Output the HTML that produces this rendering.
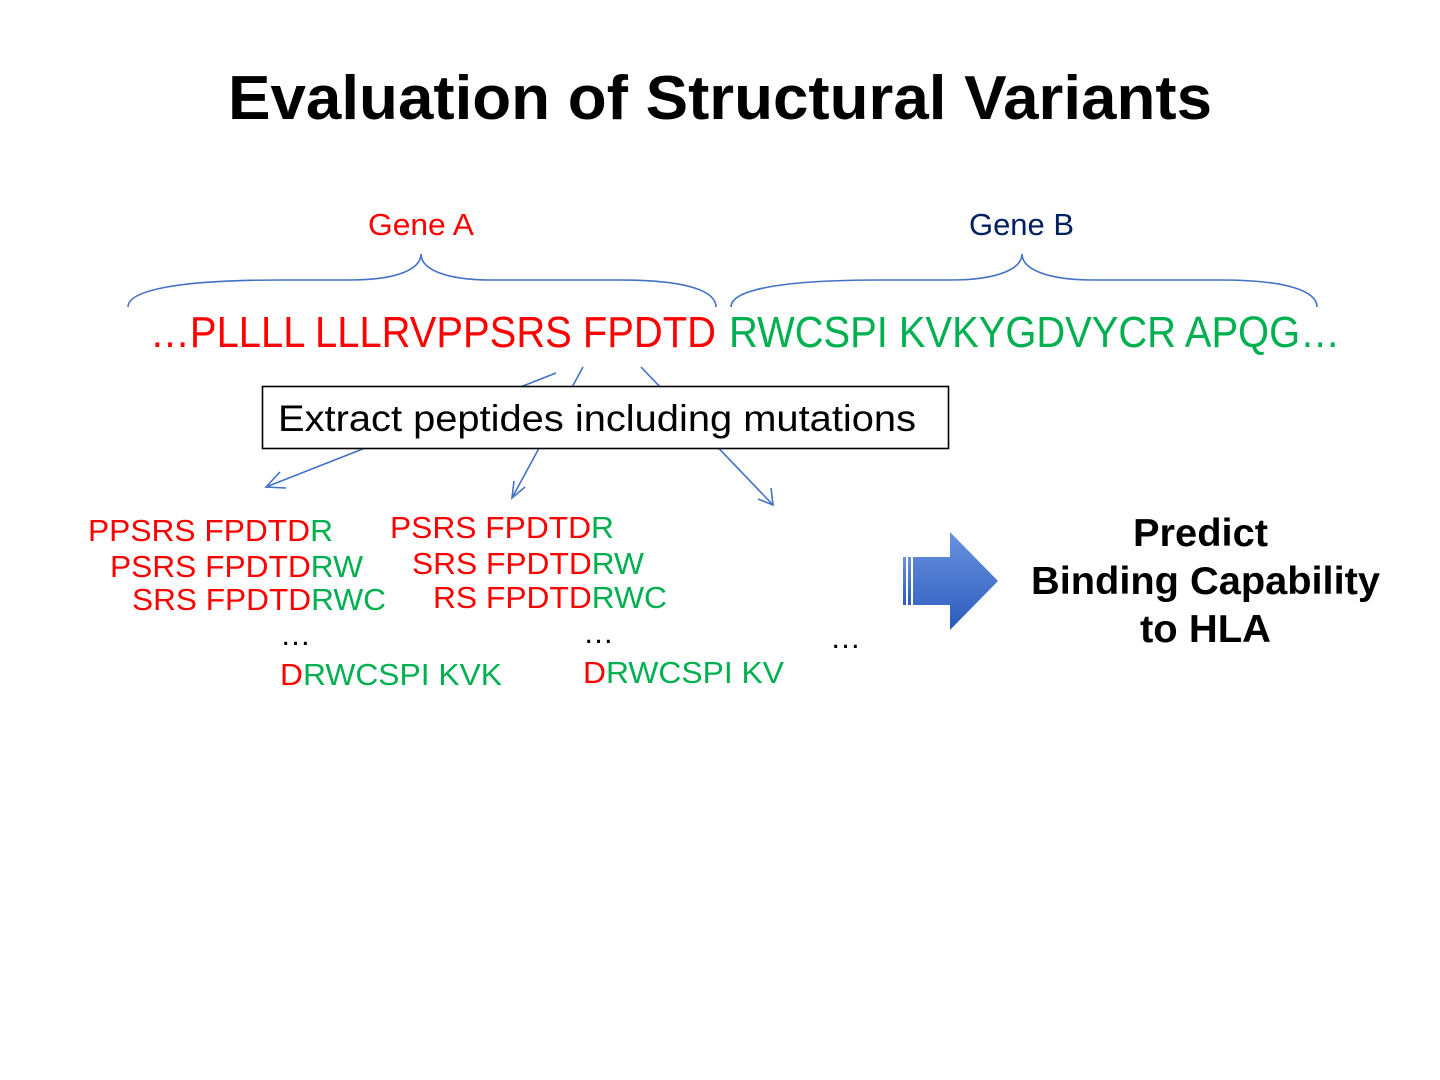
<!DOCTYPE html>
<html><head><meta charset="utf-8"><style>html,body{margin:0;padding:0;background:#fff}svg{display:block}</style></head>
<body>
<svg width="1440" height="1080" viewBox="0 0 1440 1080" xmlns="http://www.w3.org/2000/svg" font-family="Liberation Sans, Arial, sans-serif">
<defs>
<linearGradient id="g" x1="0" y1="0" x2="0" y2="1"><stop offset="0" stop-color="#6a92de"/><stop offset="1" stop-color="#2b5bbd"/></linearGradient>
</defs>
<text x="228" y="119" font-size="62" font-weight="bold" fill="#000" textLength="984" lengthAdjust="spacingAndGlyphs">Evaluation of Structural Variants</text>
<text x="368" y="235" font-size="31" fill="#ff0000" textLength="106" lengthAdjust="spacingAndGlyphs">Gene A</text>
<text x="969" y="235" font-size="31" fill="#002060" textLength="105" lengthAdjust="spacingAndGlyphs">Gene B</text>
<g fill="none" stroke="#4472c4" stroke-width="1.6">
<path d="M128,307 C128,290 180,280 280,280 L350,280 C400,280 421,268 421,254 C421,268 442,280 492,280 L620,280 C690,280 716,292 716,307"/>
<path d="M731,307 C731,290 780,280 880,280 L950,280 C1000,280 1022,268 1022,254 C1022,268 1044,280 1094,280 L1220,280 C1290,280 1317,292 1317,307"/>
<line x1="556" y1="373" x2="266" y2="487"/>
<polyline points="280,472 266,487 286,488"/>
<line x1="583" y1="367" x2="512" y2="498"/>
<polyline points="514,481 512,498 525,487"/>
<line x1="641" y1="367" x2="773" y2="505"/>
<polyline points="771,488 773,505 758,499"/>
</g>
<text x="150" y="347" font-size="44" fill="#ff0000" textLength="566" lengthAdjust="spacingAndGlyphs">…PLLLL LLLRVPPSRS FPDTD</text>
<text x="729" y="347" font-size="44" fill="#00b050" textLength="611" lengthAdjust="spacingAndGlyphs">RWCSPI KVKYGDVYCR APQG…</text>
<rect x="262.5" y="386.5" width="686" height="62" fill="#fff" stroke="#000" stroke-width="1.6"/>
<text x="278" y="431" font-size="37" fill="#000" textLength="638" lengthAdjust="spacingAndGlyphs">Extract peptides including mutations</text>
<g font-size="31" lengthAdjust="spacingAndGlyphs">
<text x="88" y="541" fill="#ff0000" textLength="245" lengthAdjust="spacingAndGlyphs">PPSRS FPDTD<tspan fill="#00b050">R</tspan></text>
<text x="110" y="577" fill="#ff0000" textLength="253" lengthAdjust="spacingAndGlyphs">PSRS FPDTD<tspan fill="#00b050">RW</tspan></text>
<text x="132" y="610" fill="#ff0000" textLength="254" lengthAdjust="spacingAndGlyphs">SRS FPDTD<tspan fill="#00b050">RWC</tspan></text>
<text x="280" y="645" fill="#000">…</text>
<text x="280" y="685" fill="#ff0000" textLength="222" lengthAdjust="spacingAndGlyphs">D<tspan fill="#00b050">RWCSPI KVK</tspan></text>
<text x="390" y="538" fill="#ff0000" textLength="224" lengthAdjust="spacingAndGlyphs">PSRS FPDTD<tspan fill="#00b050">R</tspan></text>
<text x="412" y="574" fill="#ff0000" textLength="232" lengthAdjust="spacingAndGlyphs">SRS FPDTD<tspan fill="#00b050">RW</tspan></text>
<text x="433" y="608" fill="#ff0000" textLength="234" lengthAdjust="spacingAndGlyphs">RS FPDTD<tspan fill="#00b050">RWC</tspan></text>
<text x="583" y="643" fill="#000">…</text>
<text x="583" y="683" fill="#ff0000" textLength="201" lengthAdjust="spacingAndGlyphs">D<tspan fill="#00b050">RWCSPI KV</tspan></text>
<text x="830" y="648" fill="#000">…</text>
</g>
<g fill="url(#g)">
<rect x="903" y="557" width="3" height="48"/>
<rect x="908" y="557" width="3" height="48"/>
<path d="M913,557 L950,557 L950,532 L998,581 L950,630 L950,605 L913,605 Z"/>
</g>
<g font-size="39" font-weight="bold" fill="#000">
<text x="1133" y="546" textLength="135" lengthAdjust="spacingAndGlyphs">Predict</text>
<text x="1031" y="594" textLength="349" lengthAdjust="spacingAndGlyphs">Binding Capability</text>
<text x="1140" y="642" textLength="131" lengthAdjust="spacingAndGlyphs">to HLA</text>
</g>
</svg>
</body></html>
